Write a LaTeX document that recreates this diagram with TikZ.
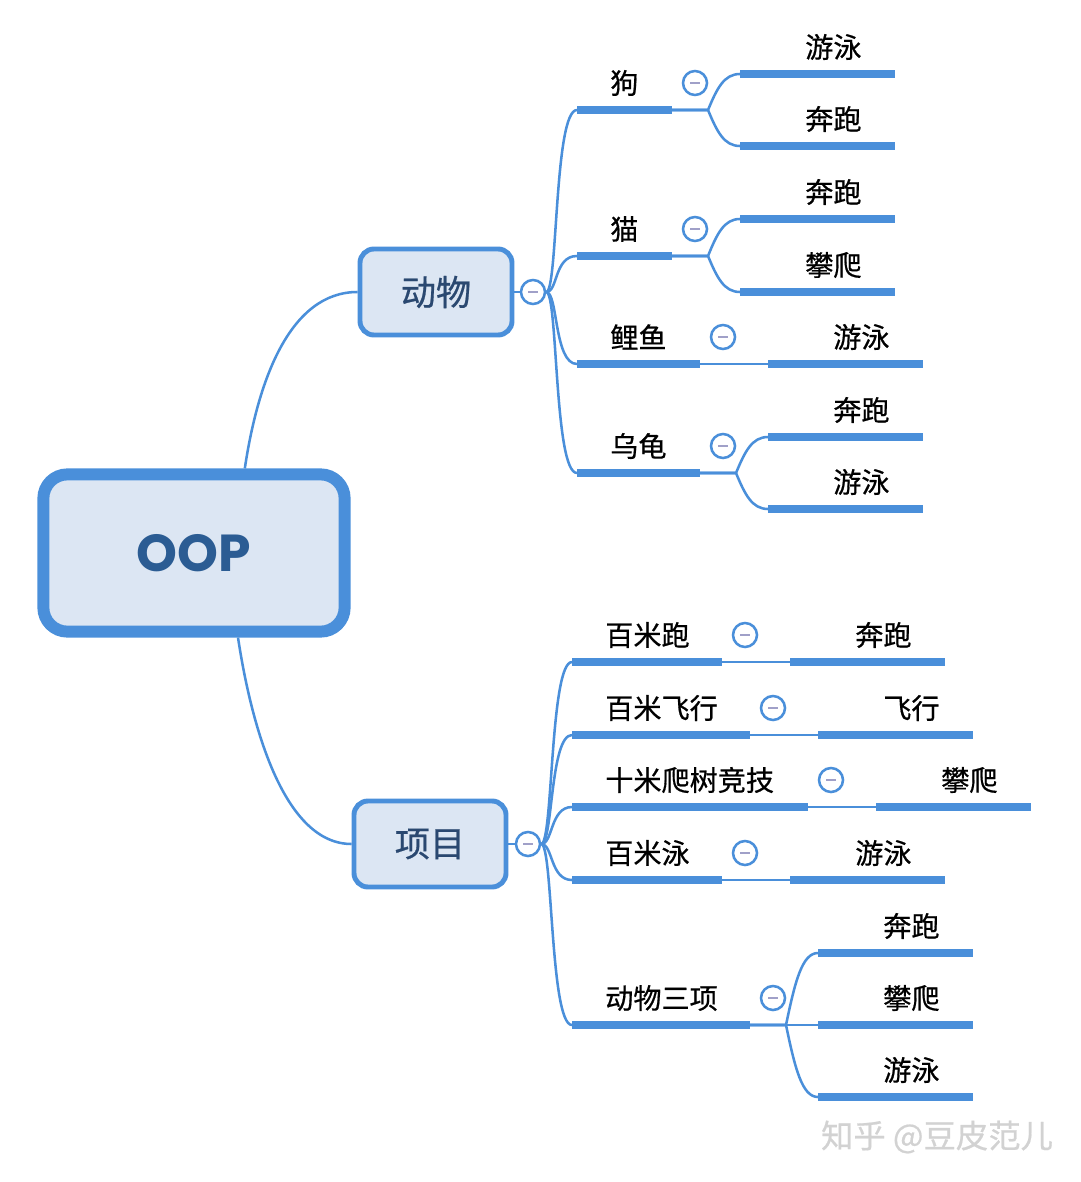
\documentclass[tikz,border=0pt]{standalone}
\usepackage{fontspec}
\setmainfont{Noto Sans CJK SC}[FakeBold=0.6]
\newfontfamily\oopfont{Poppins}
\definecolor{mapblue}{HTML}{4A8FDA}
\definecolor{mapfill}{HTML}{DCE6F3}
\definecolor{oopblue}{HTML}{2B5C93}
\definecolor{topictext}{HTML}{2A4870}
\definecolor{minusgray}{HTML}{A0A0C8}

\begin{document}
\begin{tikzpicture}[x=0.025cm,y=-0.025cm,
  conn/.style={draw=mapblue,line width=1.8pt},
  uline/.style={draw=mapblue,line width=5pt},
  topic/.style={draw=mapblue,fill=mapfill,line width=3.5pt,rounded corners=0.35cm,minimum width=3.8cm,minimum height=2.15cm,text=topictext,font=\fontsize{25}{30}\selectfont},
  leaf/.style={anchor=west,inner sep=0pt,font=\fontsize{20}{24}\selectfont},
  fold/.style={circle,draw=mapblue,fill=white,line width=1.8pt,minimum size=0.6cm,inner sep=0pt,path picture={\draw[minusgray,line width=2pt] ([xshift=-1.2mm]path picture bounding box.center) -- ([xshift=1.2mm]path picture bounding box.center);}}]
\useasboundingbox (0,0) rectangle (1080,1182);
% main topics
\node (oop) [topic,line width=8.5pt,rounded corners=0.6cm,minimum width=7.53cm,minimum height=3.93cm,text=oopblue,font=\oopfont\bfseries\fontsize{37}{40}\selectfont] at (194,553) {OOP};
\node (animal) [topic] at (436,292) {动物};
\node (project) [topic] at (430,844) {项目};
\node (animal-f) [fold] at (533,292) {};
\node (project-f) [fold] at (528,844) {};
\draw[conn] ([xshift=1.27cm]oop.north) .. controls (258,380) and (290,292) .. (animal.west);
\draw[conn] ([xshift=1.1cm]oop.south) .. controls (252,730) and (285,844) .. (project.west);
\draw[conn] (animal.east) -- (animal-f.west);
\draw[conn] (project.east) -- (project-f.west);
% animals
\foreach \n/\t/\y/\r in {dog/狗/110/672,cat/猫/256/672,carp/鲤鱼/364/700,turtle/乌龟/473/700}{
  \coordinate (\n-l) at (577,\y);
  \coordinate (\n-r) at (\r,\y);
  \coordinate (\n-s) at (\r+36,\y);
  \node (\n) [leaf] at (610,\y-27) {\t};
  \node (\n-f) [fold] at (\r+23,\y-27) {};
  \draw[uline] (\n-l) -- (\n-r);
  \draw[conn] (animal-f.east) .. controls (558,292) and (554,\y) .. (\n-l);
}
% projects
\foreach \n/\t/\y/\r in {run/百米跑/662/722,fly/百米飞行/735/750,climb/十米爬树竞技/807/808,swim/百米泳/880/722,tri/动物三项/1025/750}{
  \coordinate (\n-l) at (572,\y);
  \coordinate (\n-r) at (\r,\y);
  \coordinate (\n-s) at (\r+36,\y);
  \node (\n) [leaf] at (605,\y-27) {\t};
  \node (\n-f) [fold] at (\r+23,\y-27) {};
  \draw[uline] (\n-l) -- (\n-r);
  \draw[conn] (project-f.east) .. controls (553,844) and (550,\y) .. (\n-l);
}
% skills
\foreach \p/\r/\q/\n/\t/\y in {dog/672/110/dog1/游泳/74,dog/672/110/dog2/奔跑/146,cat/672/256/cat1/奔跑/219,cat/672/256/cat2/攀爬/292,carp/700/364/carp1/游泳/364,turtle/700/473/turtle1/奔跑/437,turtle/700/473/turtle2/游泳/509,run/722/662/run1/奔跑/662,fly/750/735/fly1/飞行/735,climb/808/807/climb1/攀爬/807,swim/722/880/swim1/游泳/880,tri/750/1025/tri1/奔跑/953,tri/750/1025/tri2/攀爬/1025,tri/750/1025/tri3/游泳/1097}{
  \coordinate (\n-l) at (\r+68,\y);
  \coordinate (\n-r) at (\r+223,\y);
  \node (\n) [leaf] at (\r+133,\y-27) {\t};
  \draw[uline] (\n-l) -- (\n-r);
  \draw[conn] (\p-r) -- (\p-s) .. controls (\r+45,\q+0.6*\y-0.6*\q) and (\r+52,\y) .. (\n-l);
}
\node (mark) [font=\fontsize{23}{26}\selectfont,text=gray!35] at (937,1137) {知乎 @豆皮范儿};
\end{tikzpicture}
\end{document}
